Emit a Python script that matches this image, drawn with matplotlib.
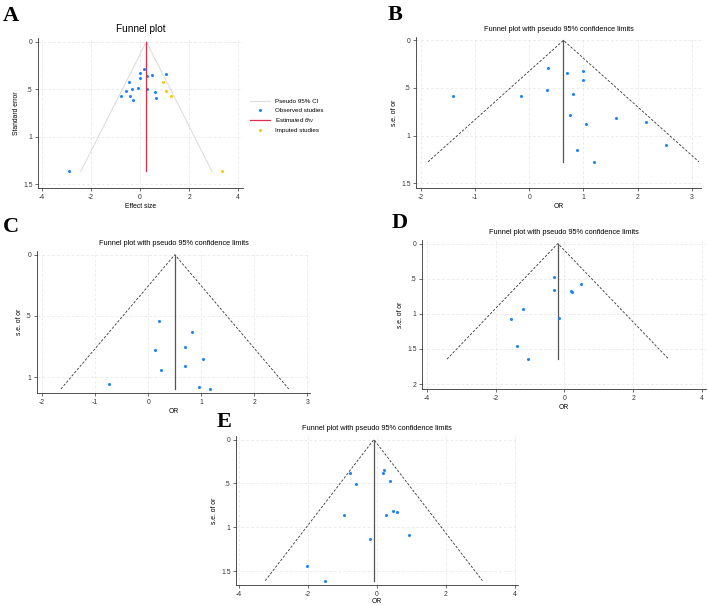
import numpy as np
import matplotlib.pyplot as plt

plt.rcParams['font.family'] = ['Liberation Sans', 'DejaVu Sans']

# Panel A: trim-and-fill funnel plot
a_obs_x = [0.15, 0.01, 0.50, 1.05, 0.29, -0.01, -0.46, -0.07, 0.27, -0.59, -0.31,
           0.60, -0.79, -0.39, 0.67, -0.29, -2.88]
a_obs_se = [0.288, 0.327, 0.348, 0.344, 0.362, 0.379, 0.428, 0.485, 0.495, 0.52, 0.499,
            0.534, 0.566, 0.576, 0.597, 0.608, 1.366]
a_imp_x = [0.95, 1.05, 1.28, 3.36]
a_imp_se = [0.428, 0.52, 0.566, 1.366]
a_theta = 0.26
a_se_max = 1.366

# Panels B-E: OR vs s.e. of or
b_x = [0.337, 0.706, 1.001, 0.989, 0.325, 0.811, -1.41, -0.143, 0.755, 1.05, 1.598,
       2.164, 2.532, 0.878, 1.186]
b_se = [0.287, 0.343, 0.322, 0.414, 0.519, 0.564, 0.589, 0.582, 0.785, 0.876, 0.82,
        0.855, 1.10, 1.153, 1.276]
c_x = [0.201, 0.836, 0.704, 0.126, 1.031, 0.686, 0.245, -0.736, 0.95, 1.17]
c_se = [0.537, 0.632, 0.752, 0.779, 0.847, 0.905, 0.94, 1.052, 1.076, 1.093]
d_x = [-0.295, -0.314, 0.481, 0.19, 0.21, -1.207, -1.566, -0.169, -1.37, -1.07]
d_se = [0.479, 0.668, 0.573, 0.673, 0.692, 0.934, 1.071, 1.062, 1.464, 1.645]
e_x = [0.189, -0.776, 0.18, 0.382, -0.612, 0.459, 0.566, 0.257, -0.969, 0.932,
       -0.207, -2.03, -1.52]
e_se = [0.342, 0.38, 0.38, 0.475, 0.509, 0.809, 0.828, 0.858, 0.855, 1.09,
        1.128, 1.443, 1.607]

BLUE = '#1a85ff'
RED = '#dc2f4a'
YELLOW = '#ffc60a'
TFS = 4.9


def fmt(v):
    # Stata style: no leading zero
    s = f'{v:g}'
    if s.startswith('0.'):
        s = s[1:]
    return s


def style_axes(ax, xticks, yticks, xlim, ylim):
    ax.set_xlim(*xlim)
    ax.set_ylim(*ylim)
    ax.set_xticks(xticks)
    ax.set_yticks(yticks)
    ax.set_xticklabels([fmt(t) for t in xticks], fontsize=TFS)
    ax.set_yticklabels([fmt(t) for t in yticks], fontsize=TFS)
    ax.grid(True, color='#e4e4e4', linestyle=(0, (4, 3)), linewidth=0.5)
    ax.set_axisbelow(True)
    for s in ['top', 'right']:
        ax.spines[s].set_visible(False)
    for s in ['left', 'bottom']:
        ax.spines[s].set_linewidth(0.6)
        ax.spines[s].set_color('#333333')
    ax.tick_params(length=2.5, width=0.5, pad=1.5, colors='#333333')


fig = plt.figure(figsize=(7.08, 6.06), dpi=100)

# ---- A
ax = fig.add_axes([38 / 708, 1 - 188 / 606, 205 / 708, 150 / 606])
lim_x = [a_theta - 1.96 * a_se_max, a_theta, a_theta + 1.96 * a_se_max]
lim_y = [a_se_max, 0, a_se_max]
ax.plot(lim_x, lim_y, color='#d9d9d9', lw=0.7, label='Pseudo 95% CI')
ax.plot(a_obs_x, a_obs_se, 'o', color=BLUE, ms=2.2, mew=0, label='Observed studies')
ax.plot([a_theta, a_theta], [0, a_se_max], color=RED, lw=0.9,
        label=r'Estimated $\theta_{\mathrm{IV}}$')
ax.plot(a_imp_x, a_imp_se, 'o', color=YELLOW, ms=2.2, mew=0, label='Imputed studies')
style_axes(ax, [-4, -2, 0, 2, 4], [0, 0.5, 1, 1.5], (-4.16, 4.2), (1.54, -0.04))
ax.set_title('Funnel plot', fontsize=7.2, pad=4)
ax.set_xlabel('Effect size', fontsize=TFS, labelpad=1.5)
ax.set_ylabel('Standard error', fontsize=TFS, labelpad=2)
ax.legend(loc='upper left', bbox_to_anchor=(1.02, 0.61), frameon=False,
          fontsize=4.5, handlelength=3.2, labelspacing=0.5, borderaxespad=0)


def or_panel(rect, x, se, theta, se_max, xticks, yticks, xlim, ylim, xpad=1.5):
    ax = fig.add_axes(rect)
    ax.plot([theta - 1.96 * se_max, theta, theta + 1.96 * se_max], [se_max, 0, se_max],
            color='#333333', lw=0.6, linestyle=(0, (3, 2)))
    ax.plot([theta, theta], [0, se_max], color='#555555', lw=0.9)
    ax.plot(x, se, 'o', color=BLUE, ms=2.2, mew=0)
    style_axes(ax, xticks, yticks, xlim, ylim)
    ax.set_title('Funnel plot with pseudo 95% confidence limits', fontsize=5.3, pad=4)
    ax.set_xlabel('OR', fontsize=TFS, labelpad=xpad)
    ax.set_ylabel('s.e. of or', fontsize=TFS, labelpad=2)
    return ax


or_panel([416 / 708, 1 - 188 / 606, 285 / 708, 151 / 606], b_x, b_se, 0.632, 1.276,
         [-2, -1, 0, 1, 2, 3], [0, 0.5, 1, 1.5], (-2.09, 3.17), (1.55, -0.035))
or_panel([37 / 708, 1 - 393 / 606, 273 / 708, 142 / 606], c_x, c_se, 0.503, 1.095,
         [-2, -1, 0, 1, 2, 3], [0, 0.5, 1], (-2.094, 3.05), (1.128, -0.03))
or_panel([422 / 708, 1 - 389 / 606, 284 / 708, 149 / 606], d_x, d_se, -0.188, 1.645,
         [-4, -2, 0, 2, 4], [0, 0.5, 1, 1.5, 2], (-4.14, 4.12), (2.07, -0.05))
or_panel([236 / 708, 1 - 585 / 606, 282 / 708, 149 / 606], e_x, e_se, -0.091, 1.607,
         [-4, -2, 0, 2, 4], [0, 0.5, 1, 1.5], (-4.09, 4.09), (1.656, -0.04), xpad=0.3)

# panel letters
for lab, px, py in [('A', 3, 21), ('B', 388, 20), ('C', 3, 232), ('D', 392, 228), ('E', 217, 427)]:
    fig.text(px / 708, 1 - py / 606, lab, fontsize=16, fontweight='bold',
             family='Liberation Serif', ha='left', va='baseline')

fig.savefig('out.png', dpi=100)
